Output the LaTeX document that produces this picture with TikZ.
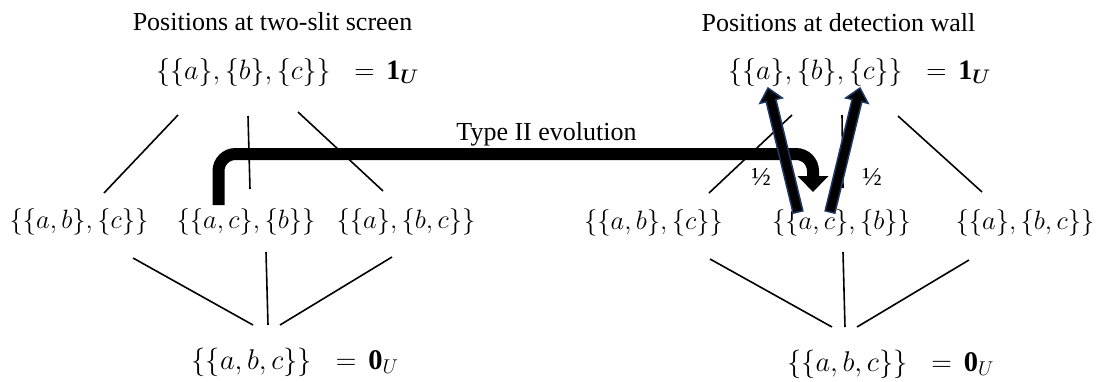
\RequirePackage{fix-cm}
\documentclass[tikz,border=0pt]{standalone}
\usepackage{amsmath}
\usepackage{fontspec}
\setmainfont{Liberation Serif}
\usetikzlibrary{arrows.meta,calc}
\definecolor{navy}{HTML}{1F3864}
\tikzset{
  lbl/.style={font=\fontsize{26}{30}\selectfont, inner sep=0pt, anchor=base},
  topf/.style={font=\fontsize{28}{32}\selectfont, inner sep=0pt, anchor=base},
  botf/.style={font=\fontsize{28.5}{32}\selectfont, inner sep=0pt, anchor=base},
  midf/.style={font=\fontsize{26.5}{30}\selectfont, inner sep=0pt, anchor=base},
  edge/.style={line width=1.6pt, black},
  evo/.style={line width=12pt, rounded corners=17pt, -{Triangle[width=30pt,length=16pt]}},
  prob/.style={fill=black, draw=navy, line width=1.5pt, line join=miter},
}
\newcommand\eqgap{\hspace{16pt}=\hspace{4pt}}
\begin{document}
\begin{tikzpicture}[x=1pt,y=-1pt]
\useasboundingbox (0,0) rectangle (1106,381);
% titles
\node[lbl] (ttl) at (272.5,30) {Positions at two-slit screen};
\node[lbl] (ttr) at (838.5,31) {Positions at detection wall};
% top
\node[topf] (Lone) at (287.5,79.5) {$\{\{a\},\{b\},\{c\}\}\eqgap\mathbf{1}_{\boldsymbol{U}}$};
\node[topf] (Rone) at (859.5,79.5) {$\{\{a\},\{b\},\{c\}\}\eqgap\mathbf{1}_{\boldsymbol{U}}$};
% middle
\node[midf] (Lab) at (79,228) {$\{\{a,b\},\{c\}\}$};
\node[midf] (Lac) at (246,228) {$\{\{a,c\},\{b\}\}$};
\node[midf] (Lbc) at (406,228) {$\{\{a\},\{b,c\}\}$};
\node[midf] (Rab) at (653.5,229.6) {$\{\{a,b\},\{c\}\}$};
\node[midf] (Rac) at (841.5,229.6) {$\{\{a,c\},\{b\}\}$};
\node[midf] (Rbc) at (1025,229.6) {$\{\{a\},\{b,c\}\}$};
% bottom
\node[botf] (Lzero) at (295,369.6) {$\{\{a,b,c\}\}\eqgap\mathbf{0}_{U}$};
\node[botf] (Rzero) at (890.5,371) {$\{\{a,b,c\}\}\eqgap\mathbf{0}_{U}$};
% labels
\node[lbl] (evl) at (546.5,140) {Type II evolution};
\node[lbl] (hl) at (761,185) {½};
\node[lbl] (hr) at (872,185) {½};
% left lattice edges
\coordinate (la1) at (178,115); \coordinate (la2) at (104,193);
\coordinate (lb1) at (248,116); \coordinate (lb2) at (250,189);
\coordinate (lc1) at (298,112); \coordinate (lc2) at (383,191);
\coordinate (ld1) at (133,258); \coordinate (ld2) at (253,325);
\coordinate (le1) at (266,252); \coordinate (le2) at (268,325);
\coordinate (lf1) at (392,257); \coordinate (lf2) at (280,325);
\draw[edge] (la1) -- (la2);
\draw[edge] (lb1) -- (lb2);
\draw[edge] (lc1) -- (lc2);
\draw[edge] (ld1) -- (ld2);
\draw[edge] (le1) -- (le2);
\draw[edge] (lf1) -- (lf2);
% right lattice edges
\coordinate (ra1) at (792,115); \coordinate (ra2) at (709,193);
\coordinate (rb1) at (842,115); \coordinate (rb2) at (843,188);
\coordinate (rc1) at (898,116); \coordinate (rc2) at (982,192);
\coordinate (rd1) at (710,259); \coordinate (rd2) at (832,327);
\coordinate (re1) at (843,252); \coordinate (re2) at (845,327);
\coordinate (rf1) at (969,260); \coordinate (rf2) at (857,327);
\draw[edge] (ra1) -- (ra2);
\draw[edge] (rb1) -- (rb2);
\draw[edge] (rc1) -- (rc2);
\draw[edge] (rd1) -- (rd2);
\draw[edge] (re1) -- (re2);
\draw[edge] (rf1) -- (rf2);
% type II evolution arrow
\coordinate (es) at (218.5,205);
\coordinate (ec1) at (218.5,154);
\coordinate (ec2) at (813,154);
\coordinate (ee) at (813,192);
\draw[evo] (es) -- (ec1) -- (ec2) -- (ee);
% probability arrows
\coordinate (b1) at (798,212); \coordinate (t1) at (768,88);
\coordinate (b2) at (830,212); \coordinate (t2) at (860,88);
\coordinate (h1) at ($(t1)!13pt!(b1)$);
\coordinate (h2) at ($(t2)!13pt!(b2)$);
\draw[prob] ($(b1)!5pt!90:(t1)$) -- ($(h1)!5pt!90:(t1)$) -- ($(h1)!11.5pt!90:(t1)$) -- (t1)
  -- ($(h1)!11.5pt!-90:(t1)$) -- ($(h1)!5pt!-90:(t1)$) -- ($(b1)!5pt!-90:(t1)$) -- cycle;
\draw[prob] ($(b2)!5pt!90:(t2)$) -- ($(h2)!5pt!90:(t2)$) -- ($(h2)!11.5pt!90:(t2)$) -- (t2)
  -- ($(h2)!11.5pt!-90:(t2)$) -- ($(h2)!5pt!-90:(t2)$) -- ($(b2)!5pt!-90:(t2)$) -- cycle;
\end{tikzpicture}
\end{document}
